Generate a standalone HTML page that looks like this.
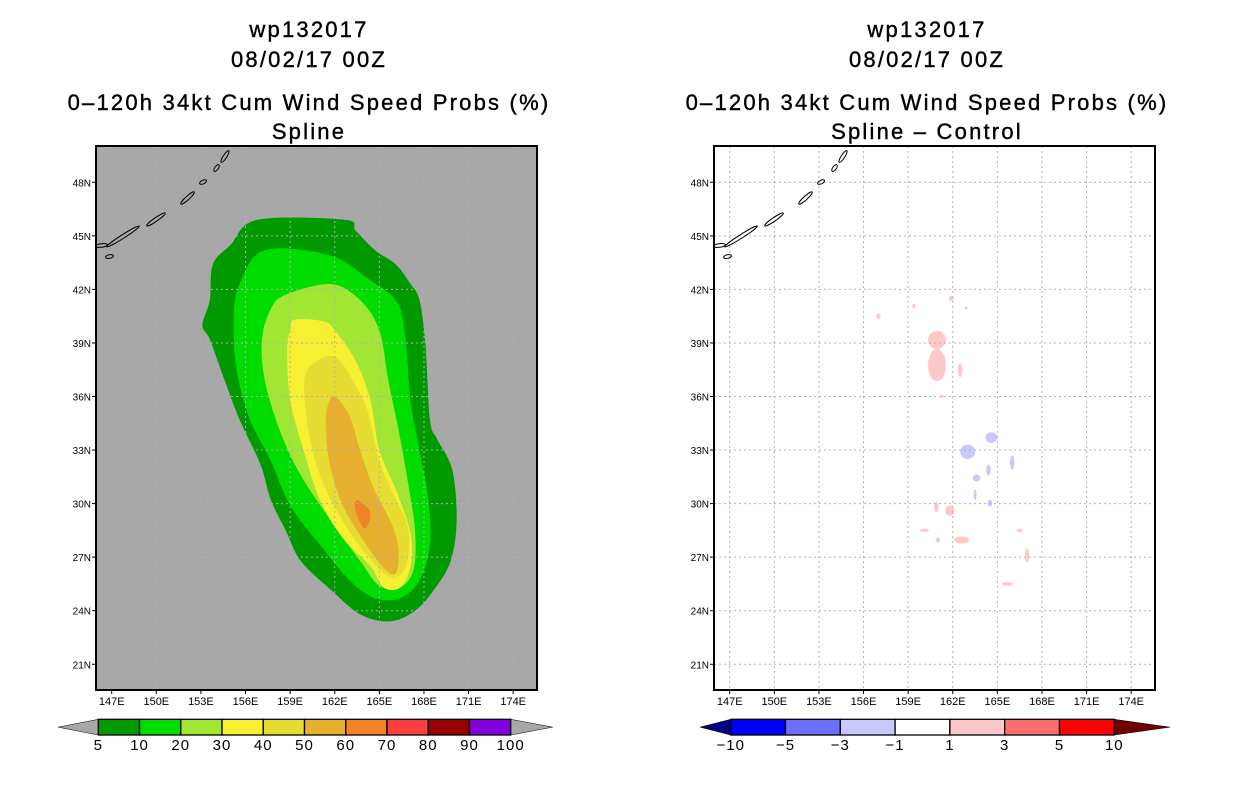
<!DOCTYPE html>
<html><head><meta charset="utf-8"><style>
body{margin:0;background:#fff;}
svg{display:block;font-family:"Liberation Sans",sans-serif;}
</style></head><body>
<svg id="root" width="1236" height="800" viewBox="0 0 1236 800"></svg>
<script>
const lonTicks=[147,150,153,156,159,162,165,168,171,174];
const latTicks=[21,24,27,30,33,36,39,42,45,48];
const probLevels=[5,10,20,30,40,50,60];
const probColors=["#009a00","#00dc00","#a0e632","#f7f032","#e6dc32","#e6af2d","#f08228"];
const prob5=[[156.8,45.9],[162.7,45.9],[163.4,45.3],[164.7,44.2],[166.1,43.4],[167.1,42.3],[167.7,41.4],[168.1,38.9],[168.4,34.7],[168.9,33.6],[169.9,31.9],[170.2,29.1],[169.8,26.8],[168.7,25.2],[167.4,24.0],[165.7,23.4],[163.7,23.8],[161.7,25.2],[159.7,26.8],[158.7,28.5],[157.7,30.2],[157.0,32.2],[155.6,34.7],[154.6,36.9],[153.6,39.2],[153.1,40.0],[153.6,41.4],[153.8,43.4],[155.0,44.5]];
const prob10=[[157.3,44.2],[161.7,43.9],[164.4,42.5],[166.1,41.4],[166.7,39.7],[167.1,35.8],[167.7,33.0],[168.3,30.2],[168.4,27.7],[167.7,25.7],[166.4,24.7],[164.7,24.7],[163.0,25.7],[161.0,27.7],[159.0,29.9],[157.7,32.4],[156.3,34.7],[155.4,37.5],[155.2,40.3],[155.6,42.3]];
const prob20=[[158.7,41.7],[161.7,42.3],[163.7,41.4],[165.0,39.7],[165.6,36.9],[166.3,34.1],[166.9,31.3],[167.4,28.5],[167.3,26.3],[166.4,25.3],[165.0,25.4],[163.7,26.8],[161.7,29.1],[159.7,31.6],[158.3,34.1],[157.3,36.9],[157.1,39.2],[157.7,40.9]];
const prob30=[[159.3,40.3],[161.3,40.2],[162.1,39.6],[163.4,38.0],[164.4,35.8],[165.0,33.0],[166.2,30.6],[167.1,28.3],[167.1,26.5],[166.4,25.3],[165.3,25.3],[164.4,26.5],[162.6,28.0],[161.0,30.2],[159.9,33.0],[159.0,35.8],[158.8,38.6],[159.0,39.7]];
const prob40=[[160.8,38.0],[162.1,38.2],[163.2,36.9],[164.2,35.2],[165.0,32.4],[165.9,30.6],[166.9,28.7],[166.9,26.8],[166.2,25.9],[165.3,26.1],[163.7,27.6],[162.2,29.5],[160.8,32.05],[160.1,34.9],[160.0,37.1]];
const prob50=[[162.0,36.0],[163.0,34.9],[163.7,33.0],[164.6,30.9],[165.9,28.7],[166.3,27.2],[166.1,26.1],[165.4,26.3],[164.2,27.6],[162.6,29.8],[161.7,32.05],[161.4,34.3],[161.5,35.4]];
const prob60=[[163.5,30.2],[164.4,29.5],[164.0,28.6],[163.4,29.6]];
const diffLon=[160.94,160.94,157.0,159.4,161.9,162.9,162.5,161.3,160.9,161.8,160.1,161.0,162.6,166.5,167.0,165.7,163.0,164.6,163.6,164.4,166.0,163.5,164.5];
const diffLat=[39.17,37.76,40.5,41.07,41.5,40.96,37.48,36.0,29.8,29.6,28.5,27.96,27.96,28.5,27.1,25.5,32.9,33.7,31.43,31.88,32.3,30.5,30.03];
const diffRx=[0.6,0.6,0.15,0.12,0.15,0.1,0.15,0.1,0.15,0.3,0.3,0.15,0.5,0.2,0.15,0.4,0.5,0.4,0.25,0.15,0.15,0.1,0.15];
const diffRy=[0.5,0.9,0.15,0.12,0.15,0.1,0.4,0.1,0.3,0.3,0.1,0.15,0.2,0.1,0.4,0.1,0.4,0.3,0.2,0.3,0.4,0.3,0.2];
const diffVal=[2,2,2,2,2,2,2,2,2,2,2,2,2,2,2,2,-2,-2,-2,-2,-2,-2,-2];
const islands=[[146.01,44.43,146.62,44.49],[146.69,43.81,147.02,43.87],[146.75,44.43,148.77,45.5],[149.44,45.61,150.52,46.23],[151.73,46.84,152.47,47.4],[153.01,47.96,153.28,48.07],[153.95,48.69,154.15,48.91],[154.42,49.19,154.82,49.7]];
const probBarLabels=["5","10","20","30","40","50","60","70","80","90","100"];
const probBarColors=["#009a00","#00dc00","#a0e632","#f7f032","#e6dc32","#e6af2d","#f08228","#fa4040","#960000","#8200dc"];
const diffBarLabels=["\u221210","\u22125","\u22123","\u22121","1","3","5","10"];
const diffBarColors=["#0000ff","#6e6eff","#c8c8ff","#ffffff","#ffc8c8","#ff6e6e","#ff0000"];

const NS="http://www.w3.org/2000/svg";
const root=document.getElementById('root');
function mk(tag,attrs,parent){const e=document.createElementNS(NS,tag);for(const k in attrs)e.setAttribute(k,attrs[k]);(parent||root).appendChild(e);return e;}
const PXDEG=14.87,PYDEG=17.85;
function xs(off){return lon=>off+111.7+(lon-147)*PXDEG;}
function ys(lat){return 182.3+(48-lat)*PYDEG;}
function smoothPath(pts){
  const n=pts.length;let d=`M${pts[0][0]},${pts[0][1]}`;
  for(let i=0;i<n;i++){
    const p0=pts[(i-1+n)%n],p1=pts[i],p2=pts[(i+1)%n],p3=pts[(i+2)%n];
    const c1=[p1[0]+(p2[0]-p0[0])/6,p1[1]+(p2[1]-p0[1])/6];
    const c2=[p2[0]-(p3[0]-p1[0])/6,p2[1]-(p3[1]-p1[1])/6];
    d+=` C${c1[0]},${c1[1]} ${c2[0]},${c2[1]} ${p2[0]},${p2[1]}`;
  }
  return d+'Z';
}
function panel(off,name,bg){
  const X=xs(off);
  const g=mk('g',{});
  
  
  const L=96+off,R=537+off,T=146,B=690;
  const clipId='clip'+off;
  const cp=mk('clipPath',{id:clipId},g);mk('rect',{x:L,y:T,width:R-L,height:B-T},cp);
  const bgr=mk('rect',{x:L,y:T,width:R-L,height:B-T,fill:bg},g);
  
  
  const inner=mk('g',{'clip-path':'url(#'+clipId+')'},g);
  return {g,inner,X,L,R,T,B};
}
function frame(p){
  const {g,inner,X,L,R,T,B}=p;
  lonTicks.forEach(v=>{const l=mk('line',{x1:X(v),x2:X(v),y1:T,y2:B,stroke:'#b0b0b0','stroke-dasharray':'2,3','stroke-width':1},inner);
    });
  latTicks.forEach(v=>{const l=mk('line',{x1:L,x2:R,y1:ys(v),y2:ys(v),stroke:'#b0b0b0','stroke-dasharray':'2,3','stroke-width':1},inner);
    });
  islands.forEach(s=>{const x1=X(s[0]),y1=ys(s[1]),x2=X(s[2]),y2=ys(s[3]);
    const cx=(x1+x2)/2,cy=(y1+y2)/2,len=Math.hypot(x2-x1,y2-y1)/2+1.5,ang=Math.atan2(y2-y1,x2-x1)*180/Math.PI;
    const e=mk('ellipse',{cx,cy,rx:len,ry:1.8,fill:'none',stroke:'#000','stroke-width':1,transform:`rotate(${ang} ${cx} ${cy})`},inner);
    });
  const fr=mk('rect',{x:L,y:T,width:R-L,height:B-T,fill:'none',stroke:'#000','stroke-width':2},g);
  
  lonTicks.forEach(v=>{mk('line',{x1:X(v),x2:X(v),y1:B,y2:B+4,stroke:'#000'},g);
    const t=mk('text',{x:X(v),y:B+15,'font-size':11,'text-anchor':'middle'},g);t.textContent=v+'E';
    });
  latTicks.forEach(v=>{mk('line',{x1:L-4,x2:L,y1:ys(v),y2:ys(v),stroke:'#000'},g);
    const t=mk('text',{x:L-5,y:ys(v)+4,'font-size':10,'text-anchor':'end'},g);t.textContent=v+'N';
    });
}
function titles(cx,sub){
  const lines=[["wp132017",37],["08/02/17 00Z",67],["0\u2013120h 34kt Cum Wind Speed Probs (%)",110],[sub,139]];
  lines.forEach((l,i)=>{const t=mk('text',{x:cx,y:l[1],'font-size':22,'text-anchor':'middle','letter-spacing':'2.2',stroke:'#000','stroke-width':0.4});t.textContent=l[0];
    });
}
function colorbar(x0,x1,tipL,tipR,colors,labels,triL,triR,name){
  const g=mk('g',{});
  const y0=719.3,y1=735,w=(x1-x0)/colors.length,ym=(y0+y1)/2;
  mk('polygon',{points:`${tipL},${ym} ${x0},${y0} ${x0},${y1}`,fill:triL,stroke:'#000','stroke-width':0.5},g);
  mk('polygon',{points:`${tipR},${ym} ${x1},${y0} ${x1},${y1}`,fill:triR,stroke:'#000','stroke-width':0.5},g);
  colors.forEach((c,i)=>{const r=mk('rect',{x:x0+i*w,y:y0,width:w,height:y1-y0,fill:c,stroke:'#000','stroke-width':1.3},g);
    });
  labels.forEach((l,i)=>{const t=mk('text',{x:x0+i*w,y:750,'font-size':15,'text-anchor':'middle','letter-spacing':'1'},g);t.textContent=l;
    });
}
const P1=panel(0,'prob-map-spline','#a8a8a8');
const rings=[prob5,prob10,prob20,prob30,prob40,prob50,prob60];
rings.forEach((r,i)=>{
  const pts=r.map(p=>[P1.X(p[0]),ys(p[1])]);
  const pg=mk('path',{d:smoothPath(pts),fill:probColors[i]},P1.inner);
  
});
frame(P1);
const P2=panel(618,'prob-map-diff','#ffffff');
diffLon.forEach((lo,i)=>{
  const e=mk('ellipse',{cx:P2.X(lo),cy:ys(diffLat[i]),rx:diffRx[i]*PXDEG,ry:diffRy[i]*PYDEG,fill:diffVal[i]>0?'#ffc8c8':'#c8c8ff'},P2.inner);
  
});
frame(P2);
titles(309,"Spline");
titles(927,"Spline \u2013 Control");
colorbar(98.3,510.7,58,552.7,probBarColors,probBarLabels,'#a8a8a8','#a8a8a8','prob-colorbar');
colorbar(730.7,1114.3,700,1170,diffBarColors,diffBarLabels,'#000080','#6e0000','diff-colorbar');
</script>
</body></html>
